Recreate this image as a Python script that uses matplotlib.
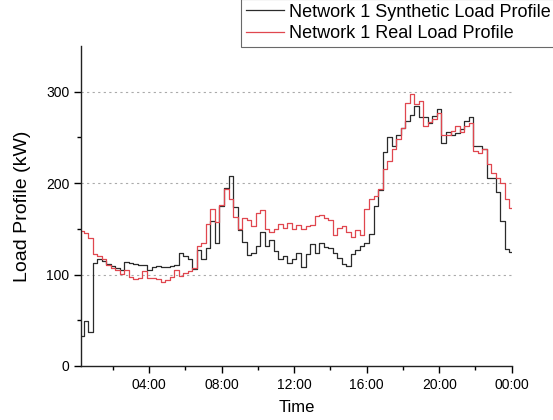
import numpy as np
import matplotlib
matplotlib.use("Agg")
import matplotlib.pyplot as plt
from matplotlib.ticker import FixedLocator

plt.rcParams['font.family'] = ['Liberation Sans', 'DejaVu Sans']

# 15-minute load profile, hours 00:15 .. 24:00
hours = np.arange(1, 97) * 0.25

synthetic_kw = [
    33, 49, 37, 113, 117, 115, 112, 109, 107, 105, 114, 113,
    111, 110, 110, 105, 108, 109, 108, 108, 109, 110, 124, 120,
    117, 106, 127, 117, 129, 158, 134, 175, 195, 208, 174, 149,
    135, 121, 124, 131, 146, 131, 138, 126, 117, 120, 113, 117,
    124, 108, 122, 133, 124, 134, 130, 129, 124, 118, 112, 109,
    122, 127, 131, 134, 144, 175, 192, 234, 250, 240, 252, 260,
    268, 274, 284, 272, 272, 266, 273, 281, 244, 256, 252, 255,
    259, 268, 272, 240, 240, 237, 205, 205, 190, 158, 128, 125,
]

real_kw = [
    148, 145, 140, 122, 120, 117, 110, 107, 105, 101, 105, 97,
    95, 96, 104, 96, 96, 95, 92, 94, 97, 105, 98, 102,
    104, 107, 131, 134, 155, 172, 157, 176, 194, 183, 163, 150,
    162, 160, 153, 167, 171, 150, 146, 150, 155, 151, 156, 150,
    154, 150, 153, 154, 164, 165, 162, 160, 143, 151, 153, 146,
    141, 149, 143, 172, 183, 186, 193, 215, 224, 237, 248, 260,
    287, 297, 286, 290, 262, 267, 270, 277, 252, 252, 257, 262,
    256, 262, 266, 235, 233, 237, 221, 211, 205, 200, 183, 173,
]

tick_hours = [4, 8, 12, 16, 20, 24]
tick_labels = ["04:00", "08:00", "12:00", "16:00", "20:00", "00:00"]

fig = plt.figure(figsize=(5.53, 4.2), dpi=100)
ax = fig.add_axes([0.147, 0.1286, 0.7783, 0.7624])

ax.step(hours, synthetic_kw, where='mid', color='#2b2b2b', lw=0.9,
        label='Network 1 Synthetic Load Profile')
ax.step(hours, real_kw, where='mid', color='#e0474f', lw=0.9,
        label='Network 1 Real Load Profile')

ax.set_xlim(0.25, 24)
ax.set_ylim(0, 350)
ax.xaxis.set_major_locator(FixedLocator(tick_hours))
ax.set_xticklabels(tick_labels)
ax.xaxis.set_minor_locator(FixedLocator([2, 6, 10, 14, 18, 22]))
ax.yaxis.set_major_locator(FixedLocator([0, 100, 200, 300]))
ax.yaxis.set_minor_locator(FixedLocator([50, 150, 250]))
ax.tick_params(which='major', direction='out', length=5, width=1, labelsize=10)
ax.tick_params(which='minor', direction='out', length=3, width=1)

for spine in ['top', 'right']:
    ax.spines[spine].set_visible(False)
for spine in ['left', 'bottom']:
    ax.spines[spine].set_linewidth(1)
    ax.spines[spine].set_color('#222222')

for y in [100, 200, 300]:
    ax.axhline(y, color='#aaaaaa', lw=0.8, linestyle=(0, (2, 3)), zorder=0)

ax.set_xlabel("Time", fontsize=12, labelpad=6)
ax.set_ylabel("Load Profile (kW)", fontsize=14, labelpad=11)

leg = fig.legend(loc='upper right', bbox_to_anchor=(1.004, 1.002), fontsize=13,
                 frameon=True, fancybox=False, edgecolor='#444444',
                 handlelength=2.1, handletextpad=0.28, labelspacing=0.26,
                 borderpad=0.25, borderaxespad=0)
leg.get_frame().set_linewidth(0.8)

fig.savefig("out.png", dpi=100)
